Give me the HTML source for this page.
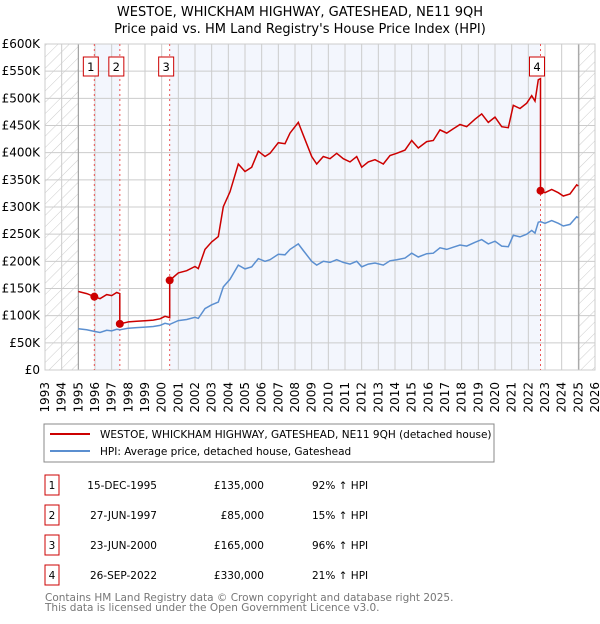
<!DOCTYPE html>
<html><head><meta charset="utf-8"><style>
body{margin:0;background:#fff;font-family:"DejaVu Sans","Liberation Sans",sans-serif;}
svg text{font-family:"DejaVu Sans","Liberation Sans",sans-serif;}
</style></head><body>
<svg id="c" width="600" height="620" viewBox="0 0 600 620" xmlns="http://www.w3.org/2000/svg">
<defs><pattern id="hatch" width="8" height="8" patternUnits="userSpaceOnUse" patternTransform="rotate(45)"><line x1="0" y1="0" x2="0" y2="8" stroke="#ccc" stroke-width="1"/></pattern></defs>
<text x="300" y="16" text-anchor="middle" font-size="13">WESTOE, WHICKHAM HIGHWAY, GATESHEAD, NE11 9QH</text>
<text x="300" y="33" text-anchor="middle" font-size="13">Price paid vs. HM Land Registry's House Price Index (HPI)</text>
<g id="plot"></g>
<rect x="44" y="424" width="450" height="38" fill="#fff" stroke="#888"/>
<line x1="50" y1="434" x2="90" y2="434" stroke="#cc0000" stroke-width="2"/>
<text x="100" y="438" font-size="10.5">WESTOE, WHICKHAM HIGHWAY, GATESHEAD, NE11 9QH (detached house)</text>
<line x1="50" y1="451" x2="90" y2="451" stroke="#5b8fd0" stroke-width="2"/>
<text x="100" y="455" font-size="10.5">HPI: Average price, detached house, Gateshead</text>
<g id="table" font-size="10.5"></g>
<text x="45" y="601" font-size="10.5" fill="#777">Contains HM Land Registry data © Crown copyright and database right 2025.</text>
<text x="45" y="611" font-size="10.5" fill="#777">This data is licensed under the Open Government Licence v3.0.</text>
</svg>
<script>
const hpiDates=[1995.0,1995.5,1995.96,1996.3,1996.7,1997.0,1997.3,1997.49,1998.0,1998.5,1999.0,1999.5,1999.9,2000.2,2000.48,2001.0,2001.5,2002.0,2002.2,2002.6,2003.0,2003.4,2003.7,2004.1,2004.6,2005.0,2005.4,2005.8,2006.2,2006.5,2007.0,2007.4,2007.7,2008.2,2008.5,2009.0,2009.3,2009.7,2010.1,2010.5,2010.9,2011.3,2011.7,2012.0,2012.4,2012.8,2013.3,2013.7,2014.1,2014.6,2015.0,2015.4,2015.9,2016.3,2016.7,2017.1,2017.5,2017.9,2018.3,2018.8,2019.2,2019.6,2020.0,2020.4,2020.8,2021.1,2021.5,2021.9,2022.2,2022.4,2022.6,2022.73,2023.0,2023.4,2023.8,2024.1,2024.5,2024.9,2025.0];
const hpiValues=[76,74,71,69,73,72,75,74,77,78,79,80,82,86,84,91,93,97,95,113,120,125,153,167,193,186,190,205,200,203,213,212,222,232,220,200,193,200,198,203,198,195,200,190,195,197,193,201,203,206,215,208,214,215,225,222,226,230,228,235,240,232,237,228,227,248,245,250,257,252,272,273,270,275,270,265,268,282,280];
const saleDates=[1995.96,1997.49,2000.48,2022.73];
const salePrices=[135,85,165,330];
const saleLabels=["1","2","3","4"];
const saleDateText=["15-DEC-1995","27-JUN-1997","23-JUN-2000","26-SEP-2022"];
const salePriceText=["£135,000","£85,000","£165,000","£330,000"];
const saleHpiText=["92% ↑ HPI","15% ↑ HPI","96% ↑ HPI","21% ↑ HPI"];
const yTicks=[0,50,100,150,200,250,300,350,400,450,500,550,600];
const yTickLabels=["£0","£50K","£100K","£150K","£200K","£250K","£300K","£350K","£400K","£450K","£500K","£550K","£600K"];
const years=[];for(let y=1993;y<=2026;y++)years.push(y);

const NS="http://www.w3.org/2000/svg";
const X0=45,X1=595,Y0=370,Y1=44;
const xs=t=>X0+(t-1993)/(2026-1993)*(X1-X0);
const ys=v=>Y0-v/600*(Y0-Y1);
function mk(tag,attrs,parent){const e=document.createElementNS(NS,tag);for(const k in attrs)e.setAttribute(k,attrs[k]);parent.appendChild(e);return e;}
const g=document.getElementById('plot');
function hpiAt(t){for(let i=0;i<hpiDates.length-1;i++){if(t>=hpiDates[i]&&t<=hpiDates[i+1]){const f=(t-hpiDates[i])/(hpiDates[i+1]-hpiDates[i]);return hpiValues[i]+f*(hpiValues[i+1]-hpiValues[i]);}}return hpiValues[hpiValues.length-1];}

let e;
e=mk('rect',{x:xs(saleDates[0]),y:Y1,width:xs(saleDates[1])-xs(saleDates[0]),height:Y0-Y1,fill:'#f3f6fd'},g);


e=mk('rect',{x:xs(saleDates[2]),y:Y1,width:xs(saleDates[3])-xs(saleDates[2]),height:Y0-Y1,fill:'#f3f6fd'},g);


e=mk('rect',{x:X0,y:Y1,width:xs(1995)-X0,height:Y0-Y1,fill:'url(#hatch)'},g);


e=mk('rect',{x:xs(2025.03),y:Y1,width:X1-xs(2025.03),height:Y0-Y1,fill:'url(#hatch)'},g);


years.forEach(y=>{const l=mk('line',{x1:xs(y),x2:xs(y),y1:Y1,y2:Y0,stroke:'#ccc','stroke-width':1},g);


const t=mk('text',{x:0,y:0,'font-size':12,'text-anchor':'end',transform:`translate(${xs(y)+4},382) rotate(-90)`},g);t.textContent=y;

});
yTicks.forEach((v,i)=>{const l=mk('line',{x1:X0,x2:X1,y1:ys(v),y2:ys(v),stroke:'#ccc','stroke-width':1},g);


const t=mk('text',{x:40,y:ys(v)+4,'font-size':12,'text-anchor':'end'},g);t.textContent=yTickLabels[i];

});
e=mk('line',{x1:xs(1995),x2:xs(1995),y1:Y1,y2:Y0,stroke:'#999'},g);


e=mk('line',{x1:xs(2025.03),x2:xs(2025.03),y1:Y1,y2:Y0,stroke:'#999'},g);


e=mk('rect',{x:X0,y:Y1,width:X1-X0,height:Y0-Y1,fill:'none',stroke:'#ccc'},g);


saleDates.forEach((d,i)=>{const l=mk('line',{x1:xs(d),x2:xs(d),y1:Y1,y2:Y0,stroke:'#e55','stroke-width':1,'stroke-dasharray':'2,3'},g);


const r=mk('rect',{x:xs(d)-11,y:57,width:15,height:19,fill:'#fff',stroke:'#cc0000'},g);


const t=mk('text',{x:xs(d)-3.5,y:71,'font-size':11.5,'text-anchor':'middle'},g);t.textContent=saleLabels[i];

});
let d='';hpiDates.forEach((t,i)=>{d+=(i?'L':'M')+xs(t).toFixed(1)+','+ys(hpiValues[i]).toFixed(1);});
e=mk('path',{d:d,fill:'none',stroke:'#5b8fd0','stroke-width':1.5},g);


const ratios=saleDates.map((s,i)=>salePrices[i]/hpiAt(s));
function ratioAt(t){let r=ratios[0];saleDates.forEach((s,i)=>{if(t>=s)r=ratios[i];});return r;}
let pts=[];
hpiDates.forEach((t,i)=>{
  saleDates.forEach((s,k)=>{if(k>0&&i>0&&hpiDates[i-1]<s&&t>=s){pts.push([s,hpiAt(s)*ratios[k-1]]);pts.push([s,salePrices[k]]);}});
  pts.push([t,hpiValues[i]*ratioAt(t)]);
});
d='';pts.forEach((p,i)=>{d+=(i?'L':'M')+xs(p[0]).toFixed(1)+','+ys(p[1]).toFixed(1);});
e=mk('path',{d:d,fill:'none',stroke:'#cc0000','stroke-width':1.5},g);


saleDates.forEach((s,i)=>{const c=mk('circle',{cx:xs(s),cy:ys(salePrices[i]),r:4,fill:'#cc0000'},g);

});
const tb=document.getElementById('table');
saleDates.forEach((s,i)=>{const y=484+i*30;
const r=mk('rect',{x:45,y:y-9,width:14,height:20,fill:'#fff',stroke:'#cc0000'},tb);


const cells=[[52,'middle',saleLabels[i]],[157,'end',saleDateText[i]],[264,'end',salePriceText[i]],[312,'start',saleHpiText[i]]];
cells.forEach(c=>{const t=mk('text',{x:c[0],y:y+5,'text-anchor':c[1]},tb);t.textContent=c[2];

});});
</script>
</body></html>
